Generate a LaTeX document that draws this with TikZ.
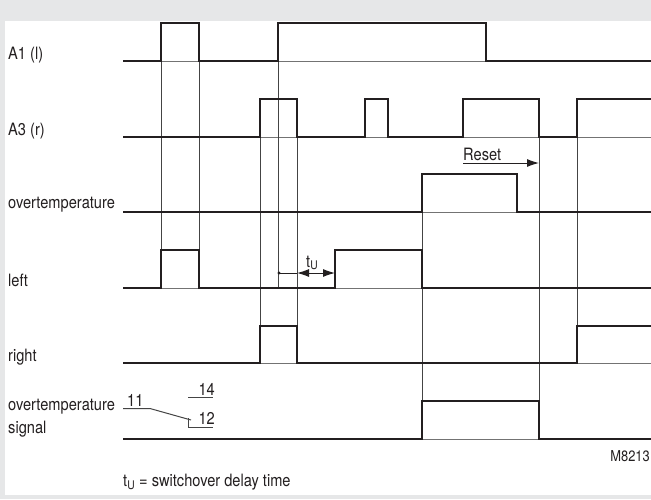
\documentclass[tikz,border=0pt]{standalone}
\usepackage{fontspec}
\setmainfont{TeX Gyre Heros}[FakeStretch=0.86]
\usetikzlibrary{arrows.meta}
\definecolor{bggray}{HTML}{E6E7E8}
\definecolor{ink}{HTML}{231F20}
\definecolor{rule}{HTML}{444444}
\begin{document}
\begin{tikzpicture}[x=1pt,y=-1pt,
  sig/.style={line width=2.8pt,ink,line join=miter},
  base/.style={line width=0.8pt,rule!75},
  edge/.style={line width=1pt,rule},
  lbl/.style={anchor=base west,inner sep=0pt,text=ink,font=\fontsize{17}{19}\selectfont},
  tip/.style={-{Latex[length=12pt,width=8pt]},line width=1pt,ink}]
  \useasboundingbox (0,0) rectangle (651,499);
  \fill[bggray] (0,0) rectangle (651,499);
  \fill[white] (5,21) rectangle (651,495);
  % labels
  \node[lbl] (la1) at (8,59) {A1 (l)};
  \node[lbl] (la3) at (8,135) {A3 (r)};
  \node[lbl] (lot) at (8,208) {overtemperature};
  \node[lbl] (lle) at (8,286) {left};
  \node[lbl] (lri) at (8,361) {right};
  \node[lbl] (los) at (8,410) {overtemperature};
  \node[lbl] (lsg) at (8,433) {signal};
  % baselines, low level at 61,137,212,288,363,439
  \foreach \y in {61,137,212,288,363,439} \draw[base] (123,\y) -- (651,\y);
  % switching instants
  \foreach \x in {161,199,278} \draw[edge] (\x,23) -- (\x,288);
  \foreach \x in {260,297} \draw[edge] (\x,99) -- (\x,363);
  \draw[edge] (422,174) -- (422,439);
  \draw[edge] (539,99) -- (539,439);
  \draw[edge] (577,99) -- (577,326);
  % signals
  \draw[sig] (123,61) -| (161,23) -| (199,61) -| (278,23) -| (486,61) -- (651,61);
  \draw[sig] (123,137) -| (260,99) -| (297,137) -| (365,99) -| (388,137)
    -| (463,99) -| (539,137) -| (577,99) -- (651,99);
  \draw[sig] (123,212) -| (422,174) -| (517,212) -- (651,212);
  \draw[sig] (123,288) -| (161,250) -| (199,288) -| (335,250) -| (422,288) -- (651,288);
  \draw[sig] (123,363) -| (260,326) -| (297,363) -| (577,326) -- (651,326);
  \draw[sig] (123,439) -| (422,401) -| (539,439) -- (651,439);
  % reset
  \coordinate (rs) at (463,163);
  \coordinate (re) at (539,163);
  \draw[tip] (rs) -- (re);
  \node[lbl] (reset) at (463,160) {Reset};
  % switchover delay
  \coordinate (ta) at (279,273);
  \coordinate (tb) at (297,273);
  \coordinate (tc) at (335,273);
  \fill[ink] (ta) circle (1.6pt);
  \draw[line width=1pt,ink] (ta) -- (tb);
  \draw[line width=1pt,ink,{Latex[length=12pt,width=8pt]}-{Latex[length=12pt,width=8pt]}] (tb) -- (tc);
  \node[lbl] (tu) at (306,267) {t\textsubscript{U}};
  % contact symbol
  \draw[edge] (123,408.5) -- (150,408.5) -- (191,420);
  \draw[edge] (188,418) |- (213,427.5);
  \draw[edge] (188,397.5) -- (213,397.5);
  \node[lbl] (c11) at (127,406) {11};
  \node[lbl,anchor=base east] (c14) at (215,395) {14};
  \node[lbl,anchor=base east] (c12) at (215,424) {12};
  % footer
  \node[lbl,anchor=base east,font=\fontsize{15}{17}\selectfont] (fig) at (650,461.5) {M8213};
  \node[lbl] (note) at (123,486.5) {t\textsubscript{U} = switchover delay time};
\end{tikzpicture}
\end{document}
